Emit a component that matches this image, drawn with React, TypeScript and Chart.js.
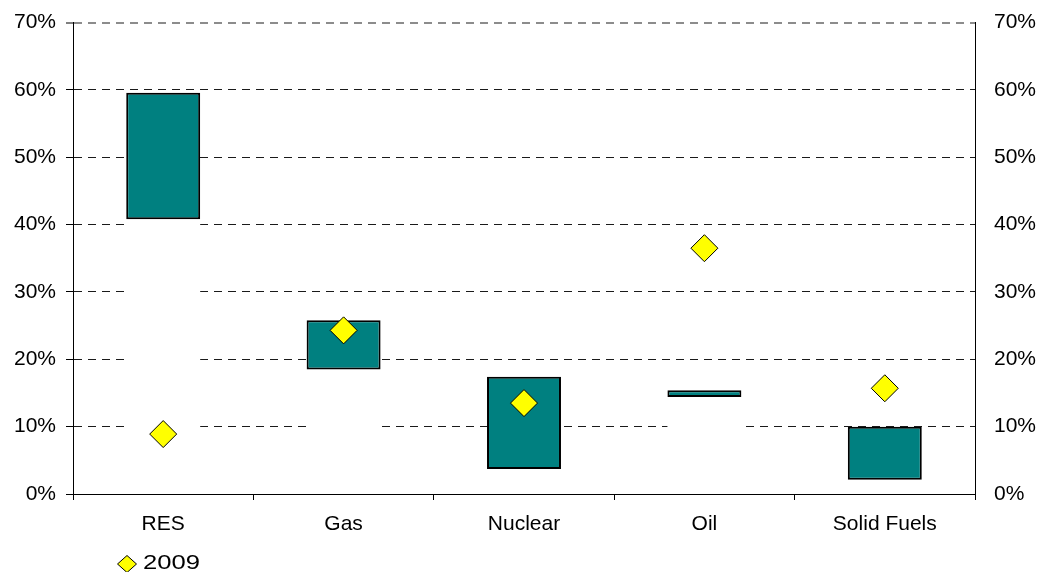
import React, { useEffect, useRef } from 'react';
import { Chart, registerables } from 'chart.js';

Chart.register(...registerables);

const categories = ['RES', 'Gas', 'Nuclear', 'Oil', 'Solid Fuels'];
const rangeLow = [40.8, 18.5, 3.7, 14.4, 2.1];
const rangeHigh = [59.6, 25.8, 17.4, 15.4, 10.0];
const values2009 = [8.9, 24.3, 13.5, 36.5, 15.7];
const seriesLabel = '2009';
const yMin = 0;
const yMax = 70;
const yStep = 10;

const FONT = "'Liberation Sans', Arial, Helvetica, sans-serif";

const overlayPlugin = {
  id: 'overlay',
  afterDatasetsDraw(chart: any) {
    ['x', 'y', 'y2'].forEach((id) => {
      const s: any = chart.scales[id];
      if (s && typeof s.drawBorder === 'function') s.drawBorder();
    });
  },
  afterDraw(chart: any) {
    const ctx = chart.ctx;
    const ds: any = chart.data.datasets[2];
    const area = chart.chartArea;
    const cx = area.left + 54;
    const cy = chart.height - 8;
    ctx.save();
    ctx.beginPath();
    ctx.moveTo(cx - 9.5, cy);
    ctx.lineTo(cx, cy - 8.5);
    ctx.lineTo(cx + 9.5, cy);
    ctx.lineTo(cx, cy + 8.5);
    ctx.closePath();
    ctx.fillStyle = ds.pointBackgroundColor;
    ctx.fill();
    ctx.lineWidth = 1;
    ctx.strokeStyle = ds.pointBorderColor;
    ctx.stroke();
    ctx.translate(cx + 16, cy - 1);
    ctx.scale(1.22, 1);
    ctx.fillStyle = '#000';
    ctx.font = `21px ${FONT}`;
    ctx.textBaseline = 'middle';
    ctx.textAlign = 'left';
    ctx.fillText(ds.label, 0, 0);
    ctx.restore();
  },
};

export default function App() {
  const ref = useRef<HTMLCanvasElement | null>(null);

  useEffect(() => {
    if (!ref.current) return;
    const chart = new Chart(ref.current, {
      type: 'bar',
      data: {
        labels: categories,
        datasets: [
          {
            type: 'bar',
            label: 'base',
            data: rangeLow.map((v) => [0, v]) as any,
            backgroundColor: '#ffffff',
            borderWidth: 0,
            grouped: false,
            barPercentage: 0.41,
            categoryPercentage: 1,
            order: 3,
          } as any,
          {
            type: 'bar',
            label: 'range',
            data: categories.map((_, i) => [rangeLow[i], rangeHigh[i]]) as any,
            backgroundColor: '#008080',
            borderColor: '#000000',
            borderWidth: 2,
            borderSkipped: false,
            grouped: false,
            barPercentage: 0.41,
            categoryPercentage: 1,
            order: 2,
          } as any,
          {
            type: 'line',
            label: seriesLabel,
            data: values2009,
            showLine: false,
            pointStyle: 'rectRot',
            pointRadius: 13.5,
            pointHoverRadius: 13.5,
            pointBackgroundColor: '#ffff00',
            pointBorderColor: '#000000',
            pointBorderWidth: 1,
            order: 1,
          } as any,
        ],
      },
      options: {
        animation: false,
        responsive: true,
        maintainAspectRatio: false,
        layout: { padding: { top: 0, left: 0, right: 0, bottom: 0 } },
        plugins: {
          legend: { display: false },
          tooltip: { enabled: false },
        },
        scales: {
          x: {
            offset: true,
            grid: {
              display: true,
              drawOnChartArea: false,
              offset: true,
              color: '#000',
              tickLength: 6,
            },
            border: { display: true, color: '#000', width: 1 },
            ticks: {
              font: { size: 21, family: FONT },
              color: '#000',
              padding: 12,
              maxRotation: 0,
              autoSkip: false,
            },
            afterFit: (s: any) => {
              s.height = 78;
            },
          },
          y: {
            position: 'left',
            min: yMin,
            max: yMax,
            ticks: {
              stepSize: yStep,
              font: { size: 21, family: FONT },
              color: '#000',
              padding: 10,
              callback: (v: any) => `${v}%`,
            },
            grid: {
              color: (c: any) => (c.tick && c.tick.value === yMax ? '#8c8c8c' : '#1a1a1a'),
              lineWidth: (c: any) => (c.tick && c.tick.value === yMax ? 2 : 1),
              tickColor: '#000',
              tickWidth: 1,
              tickLength: 7,
            },
            border: { display: true, color: '#000', width: 1, dash: [8, 6] },
            afterFit: (s: any) => {
              s.width = 73;
            },
          },
          y2: {
            position: 'right',
            min: yMin,
            max: yMax,
            ticks: {
              stepSize: yStep,
              font: { size: 21, family: FONT },
              color: '#000',
              padding: 10,
              callback: (v: any) => `${v}%`,
            },
            grid: {
              display: true,
              drawOnChartArea: false,
              drawTicks: true,
              tickLength: 9,
              tickColor: 'rgba(0,0,0,0)',
              color: 'rgba(0,0,0,0)',
            },
            border: { display: true, color: '#000', width: 1 },
            afterFit: (s: any) => {
              s.width = 64;
            },
          },
        },
      } as any,
      plugins: [overlayPlugin],
    });
    return () => chart.destroy();
  }, []);

  return (
    <div style={{ position: 'fixed', left: 0, top: 0, width: 1039, height: 572, background: '#fff' }}>
      <canvas ref={ref} />
    </div>
  );
}
